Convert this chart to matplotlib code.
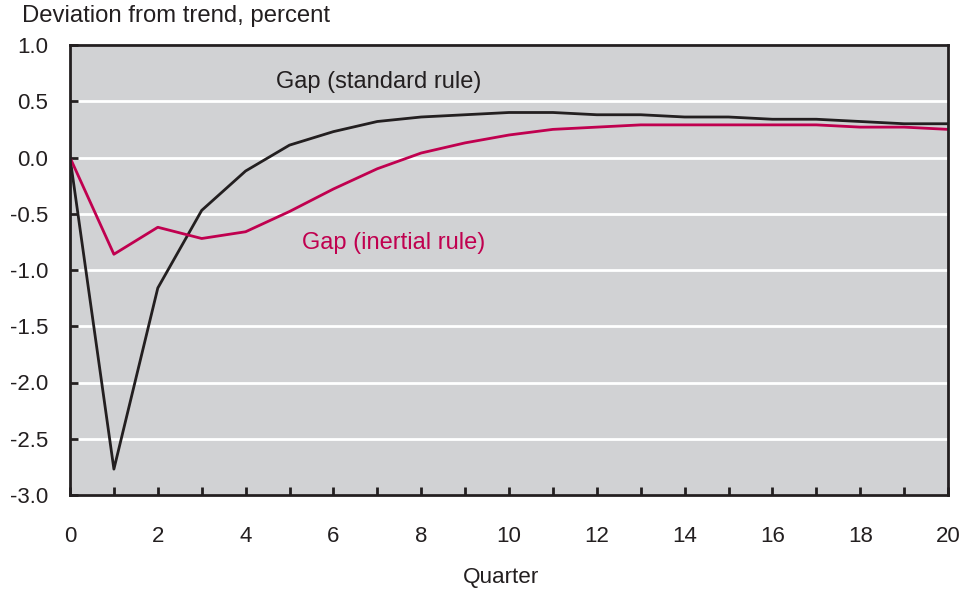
import matplotlib
matplotlib.use("Agg")
import matplotlib.pyplot as plt

quarters = list(range(21))
standard = [0.0, -2.77, -1.16, -0.47, -0.12, 0.11, 0.23, 0.32, 0.36, 0.38, 0.40, 0.40,
            0.38, 0.38, 0.36, 0.36, 0.34, 0.34, 0.32, 0.30, 0.30]
inertial = [0.0, -0.86, -0.62, -0.72, -0.66, -0.48, -0.28, -0.10, 0.04, 0.13, 0.20, 0.25,
            0.27, 0.29, 0.29, 0.29, 0.29, 0.29, 0.27, 0.27, 0.25]
yticks = [1.0, 0.5, 0.0, -0.5, -1.0, -1.5, -2.0, -2.5, -3.0]

plt.rcParams['font.family'] = ['Liberation Sans', 'DejaVu Sans']
MAG = '#c0004f'
INK = '#231f20'

fig = plt.figure(figsize=(9.65, 5.92), dpi=100)
ax = fig.add_axes([70/965, (592-495)/592, (948-70)/965, (495-45)/592])
ax.set_facecolor('#d1d2d4')
for y in yticks:
    ax.axhline(y, color='white', lw=2, zorder=1)

ax.plot(quarters, standard, color=INK, lw=2, zorder=3)
ax.plot(quarters, inertial, color=MAG, lw=2, zorder=3)

ax.set_xlim(0, 20)
ax.set_ylim(-3.0, 1.0)
ax.set_yticks(yticks)
ax.set_yticklabels([f"{v:.1f}" for v in yticks])
ax.set_xticks(quarters)
ax.set_xticklabels([str(q) if q % 2 == 0 else '' for q in quarters])
ax.tick_params(axis='both', direction='in', length=6, width=2, color=INK,
               labelsize=16, labelcolor=INK)
ax.tick_params(axis='y', pad=15.5)
ax.tick_params(axis='x', pad=22.5)
for s in ax.spines.values():
    s.set_linewidth(2)
    s.set_color(INK)
    s.set_zorder(4)

fig.text(22/965, 1-21.7/592, 'Deviation from trend, percent', fontsize=17.2, color=INK,
         ha='left', va='baseline')
fig.text(501/965, 1-577/592, 'Quarter', fontsize=16.2, color=INK, ha='center', va='center')
ax.text(7.04, 0.667, 'Gap (standard rule)', fontsize=17, color=INK, ha='center', va='center')
ax.text(7.38, -0.764, 'Gap (inertial rule)', fontsize=17, color=MAG, ha='center', va='center')

fig.savefig('out.png', dpi=100)
